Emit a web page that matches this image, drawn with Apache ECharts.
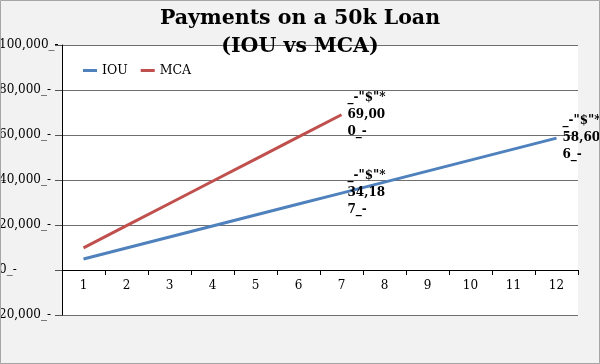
<!DOCTYPE html>
<html>
<head>
<meta charset="utf-8">
<script src="https://cdn.jsdelivr.net/npm/echarts@6/dist/echarts.min.js"></script>
<style>html,body{margin:0;padding:0;background:#f2f2f2;}#c{width:600px;height:364px;}</style>
</head>
<body>
<div id="c"></div>
<script>
const categories = ['1','2','3','4','5','6','7','8','9','10','11','12'];
const iouValues = [4884, 9768, 14651, 19535, 24419, 29303, 34187, 39071, 43954, 48838, 53722, 58606];
const mcaValues = [9857, 19714, 29571, 39429, 49286, 59143, 69000];
const yTicks = [-20000, 0, 20000, 40000, 60000, 80000, 100000];
const iouLabelIdx = [6, 11];
const mcaLabelIdx = [6];

const FONT = '"DejaVu Serif", "Liberation Serif", serif';

function fmtLabel(p) {
  const s = Math.round(p.value).toLocaleString('en-US');
  return '_-"$"*\n' + s.slice(0, 5) + '\n' + s.slice(5) + '_-';
}
function mk(values, idx) {
  return values.map((v, i) => idx.includes(i) ? { value: v, label: { show: true } } : v);
}
const labelStyle = { show: false, position: 'right', distance: 6, formatter: fmtLabel,
  fontFamily: FONT, fontWeight: 'bold', fontSize: 12, lineHeight: 17, color: '#000' };

const chart = echarts.init(document.getElementById('c'), null, { renderer: 'canvas' });
chart.setOption({
  backgroundColor: '#f2f2f2',
  animation: false,
  title: {
    text: 'Payments on a 50k Loan\n(IOU vs MCA)',
    left: 'center',
    top: 0,
    textStyle: { fontFamily: FONT, fontWeight: 'bold', fontSize: 20.5, lineHeight: 28, color: '#000' }
  },
  legend: {
    left: 78, top: 59,
    itemWidth: 14, itemHeight: 3, itemGap: 13,
    icon: 'rect',
    textStyle: { fontFamily: FONT, fontSize: 12.5, color: '#000' },
    data: ['IOU', 'MCA']
  },
  grid: {
    left: 62, right: 22, top: 45, bottom: 49,
    outerBoundsMode: 'none', containLabel: false,
    show: true, backgroundColor: '#fff', borderWidth: 0
  },
  xAxis: {
    type: 'category',
    data: categories,
    boundaryGap: true,
    axisLine: { onZero: true, lineStyle: { color: '#000', width: 1 } },
    axisTick: { show: true, inside: false, length: 5, alignWithLabel: false, lineStyle: { color: '#000' } },
    axisLabel: { fontFamily: FONT, fontSize: 12, color: '#000', margin: -35 },
    splitLine: { show: false }
  },
  yAxis: {
    type: 'value',
    min: yTicks[0], max: yTicks[yTicks.length - 1], interval: 20000,
    axisLine: { show: true, onZero: false, lineStyle: { color: '#000', width: 1 } },
    axisTick: { show: true, length: 7, lineStyle: { color: '#555' } },
    splitLine: { show: true, lineStyle: { color: '#6f6f6f', width: 1 } },
    axisLabel: {
      fontFamily: FONT, fontSize: 12, color: '#000',
      align: 'left', margin: 63,
      formatter: v => Math.abs(v).toLocaleString('en-US') + '_-'
    }
  },
  series: [
    {
      name: 'IOU', type: 'line', data: mk(iouValues, iouLabelIdx),
      symbol: 'circle', symbolSize: 0, showSymbol: true,
      lineStyle: { color: '#4f81bd', width: 3 },
      itemStyle: { color: '#4f81bd' },
      label: labelStyle
    },
    {
      name: 'MCA', type: 'line', data: mk(mcaValues, mcaLabelIdx),
      symbol: 'circle', symbolSize: 0, showSymbol: true,
      lineStyle: { color: '#c0504d', width: 3 },
      itemStyle: { color: '#c0504d' },
      label: labelStyle
    }
  ],
  graphic: [{
    type: 'rect', silent: true, z: 100,
    shape: { x: 0.5, y: 0.5, width: 599, height: 363 },
    style: { fill: 'none', stroke: '#a6a6a6', lineWidth: 1 }
  }]
});
</script>
</body>
</html>
